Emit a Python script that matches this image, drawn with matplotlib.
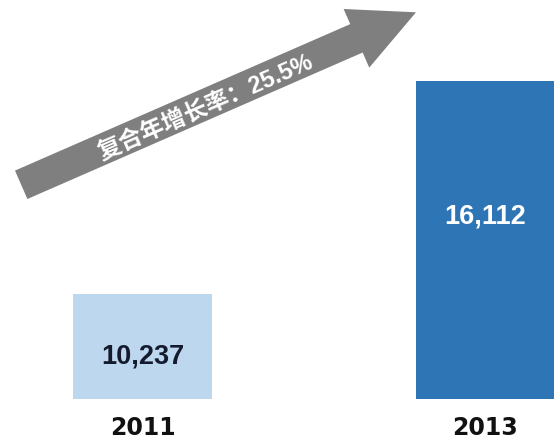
import numpy as np
import matplotlib.pyplot as plt
from matplotlib.patches import FancyArrow

plt.rcParams['font.family'] = ['Liberation Sans', 'Noto Sans CJK SC', 'DejaVu Sans']

years = ['2011', '2013']
values = [10237, 16112]
value_labels = ['10,237', '16,112']
cagr_label = '复合年增长率：25.5%'

bar_colors = ['#BDD7EE', '#2E75B6']
label_colors = ['#141B2D', '#FFFFFF']
label_offsets = [-44, -97]   # points below bar top
base = 7330

fig = plt.figure(figsize=(5.54, 4.39), dpi=100)
ax = fig.add_axes([0, 0, 1, 1])
x = np.arange(len(years))
ax.bar(x, np.array(values) - base, bottom=base, width=0.405, color=bar_colors)
ax.set_xlim(-0.4155, 1.2)
ax.set_ylim(6265, 18373)
ax.axis('off')

for xi, v, lab, c, off in zip(x, values, value_labels, label_colors, label_offsets):
    ax.annotate(lab, (xi, v), xytext=(0, off), textcoords='offset points',
                ha='center', va='center', fontsize=19.5, fontweight='bold', color=c)

for xi, yr in zip(x, years):
    ax.annotate(yr, (xi, base), xytext=(0, -20), textcoords='offset points',
                ha='center', va='center', fontsize=17, fontweight='bold',
                color='#111111', family='DejaVu Sans')

# overlay in pixel coordinates for the growth arrow
ov = fig.add_axes([0, 0, 1, 1])
ov.set_xlim(0, 554)
ov.set_ylim(439, 0)
ov.axis('off')
tail = np.array([21.2, 185.8])
tip = np.array([416.0, 13.3])
d = tip - tail
ov.add_patch(FancyArrow(tail[0], tail[1], d[0], d[1], width=31, head_width=64,
                        head_length=65, length_includes_head=True,
                        color='#7F7F7F', lw=0))
ang = np.degrees(np.arctan2(-d[1], d[0]))
ov.text(205, 107, cagr_label, rotation=ang, rotation_mode='anchor',
        ha='center', va='center', fontsize=17, fontweight='bold', color='white')

fig.savefig('out.png', dpi=100)
